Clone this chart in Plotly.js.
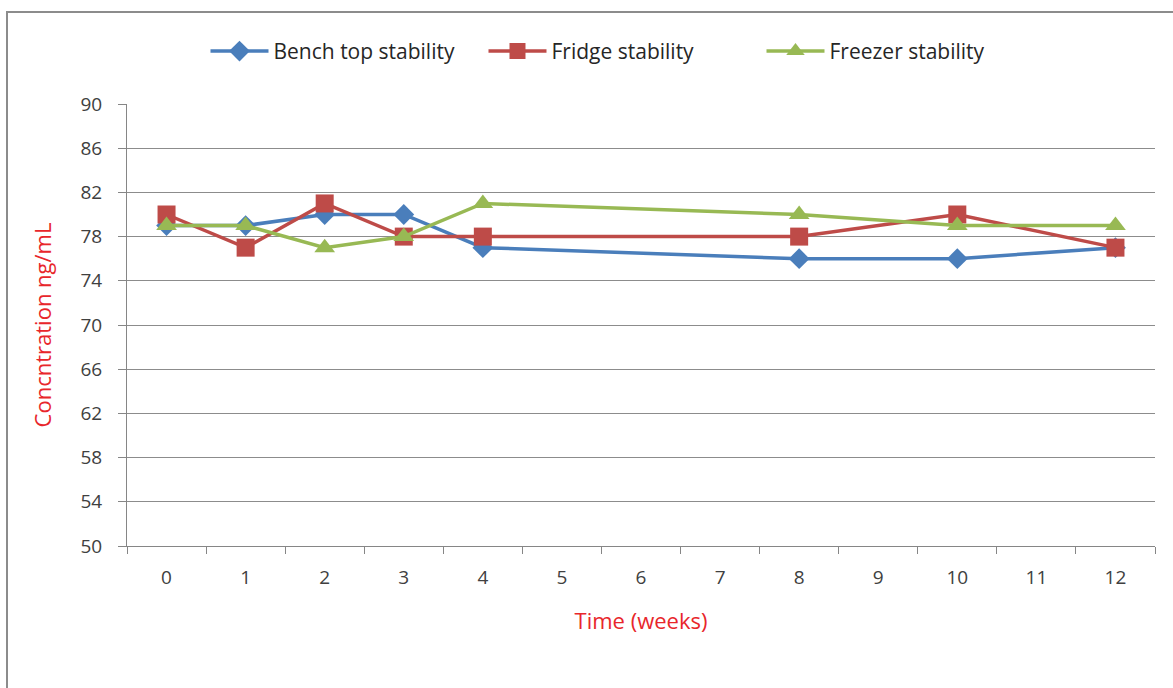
<!DOCTYPE html>
<html>
<head>
<meta charset="utf-8">
<script src="https://cdn.plot.ly/plotly-3.0.1.min.js"></script>
<style>
  html, body { margin:0; padding:0; background:#fff; overflow:hidden; }
  #frame { position:absolute; left:6px; top:11px; width:1200px; height:700px; border:2px solid #8c8c8c; box-sizing:border-box; pointer-events:none; z-index:5; }
  #chart { position:absolute; left:0; top:0; width:1173px; height:688px; }
</style>
</head>
<body>
<div id="chart"></div>
<div id="frame"></div>
<script>
const weeks = [0, 1, 2, 3, 4, 8, 10, 12];
const benchTop = [79, 79, 80, 80, 77, 76, 76, 77];
const fridge   = [80, 77, 81, 78, 78, 78, 80, 77];
const freezer  = [79, 79, 77, 78, 81, 80, 79, 79];
const xTickVals = [0,1,2,3,4,5,6,7,8,9,10,11,12];
const xTickText = ["0","1","2","3","4","5","6","7","8","9","10","11","12"];

const traces = [
  {x: weeks, y: benchTop, name: "Bench top stability", mode: "lines+markers",
   line: {color: "#4a7ebb", width: 3.5}, marker: {symbol: "diamond", size: 16, color: "#4a7ebb"}},
  {x: weeks, y: fridge, name: "Fridge stability", mode: "lines+markers",
   line: {color: "#be4b48", width: 3.5}, marker: {symbol: "square", size: 18, color: "#be4b48"}},
  {x: weeks, y: freezer, name: "Freezer stability", mode: "lines+markers",
   line: {color: "#98b954", width: 3.5}, marker: {symbol: "triangle-up", size: 18, color: "#98b954"}}
];

const layout = {
  width: 1173, height: 688,
  margin: {l: 127, r: 18, t: 104, b: 142},
  paper_bgcolor: "#fff", plot_bgcolor: "#fff",
  font: {family: "'Open Sans', sans-serif", size: 19, color: "#404040"},
  showlegend: true,
  legend: {orientation: "h", x: 0.482, xanchor: "center", xref: "paper", y: 0.955, yref: "container", yanchor: "top",
           font: {size: 21, color: "#262626"}, traceorder: "normal", itemwidth: 58,
           entrywidth: 205, entrywidthmode: "pixels"},
  xaxis: {
    range: [-0.5, 12.5], tickmode: "array", tickvals: xTickVals, ticktext: xTickText,
    ticks: "", showgrid: false, zeroline: false,
    showline: true, linecolor: "#868686", linewidth: 1,
    ticklabelstandoff: 14,
    minor: {tickmode: "linear", tick0: -0.5, dtick: 1, ticks: "outside", ticklen: 7, tickcolor: "#868686", showgrid: false},
    tickfont: {size: 19, color: "#404040"},
    title: {text: "Time (weeks)", font: {size: 22, color: "#e8262b"}, standoff: 24}
  },
  yaxis: {
    range: [50, 90], tickmode: "linear", tick0: 50, dtick: 4,
    ticks: "outside", ticklen: 8, tickcolor: "#868686",
    showgrid: true, gridcolor: "#8c8c8c", gridwidth: 1, zeroline: false,
    showline: true, linecolor: "#868686", linewidth: 1,
    ticklabelstandoff: 12,
    tickfont: {size: 19, color: "#404040"},
    title: {text: "Concntration ng/mL", font: {size: 22, color: "#e8262b"}, standoff: 22}
  }
};

Plotly.newPlot("chart", traces, layout, {displayModeBar: false, staticPlot: true});
</script>
</body>
</html>
